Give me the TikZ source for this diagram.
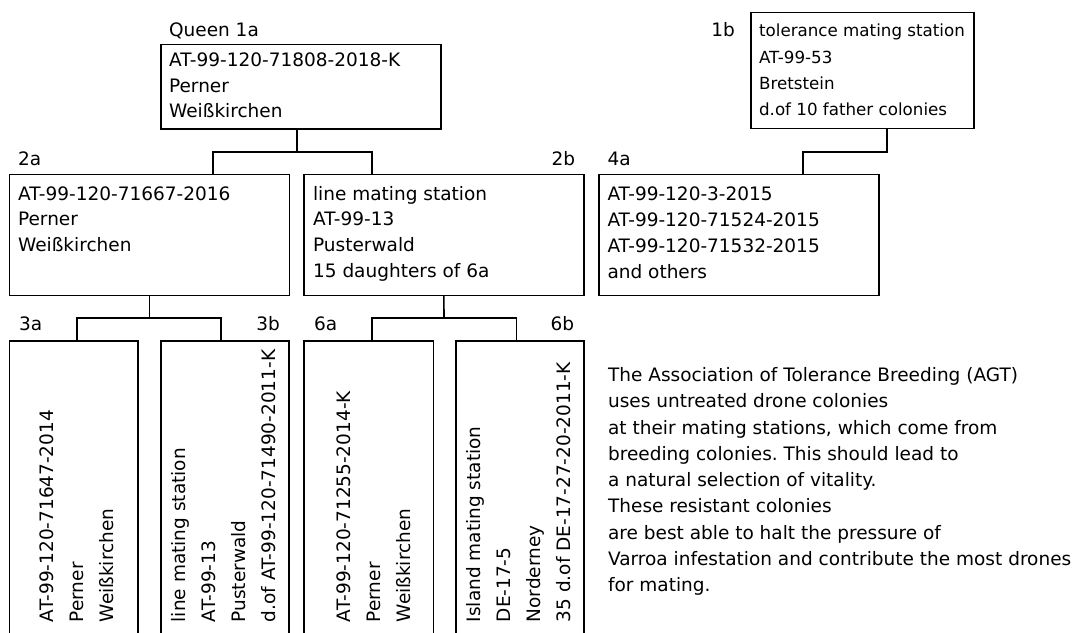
\documentclass[tikz,border=0pt]{standalone}
\usepackage{fontspec}
\setmainfont{DejaVu Sans}
\frenchspacing
\usetikzlibrary{positioning,calc}

\begin{document}
\begin{tikzpicture}[x=1pt,y=-1pt,line width=1.6pt,
    box/.style={draw, inner sep=0pt, outer sep=0pt, anchor=north west},
    % multi-line texts are anchored at the baseline of their last line
    txt/.style={inner sep=0pt, anchor=base west, align=left,
                font=\fontsize{18.5}{25.8}\selectfont},
    lbl/.style={inner sep=0pt, font=\fontsize{18.5}{22}\selectfont},
    vtxt/.style={txt, rotate=90, font=\fontsize{18.5}{30}\selectfont}]
    \useasboundingbox (0,0) rectangle (1078,632);
    \clip (0,0) rectangle (1078,632);

    % boxes
    \node[box, minimum width=280, minimum height=84.7] (q) at (160.7,44.3) {};
    \node[box, minimum width=223, minimum height=116] (b1) at (750.7,12.3) {};
    \node[box, minimum width=280, minimum height=121] (a2) at (9.3,174.3) {};
    \node[box, minimum width=279.7, minimum height=121] (b2) at (304,174.3) {};
    \node[box, minimum width=279.7, minimum height=121] (a4) at (599,174.3) {};
    \node[box, minimum width=128.7, minimum height=320] (a3) at (9.3,341) {};
    \node[box, minimum width=128.3, minimum height=320] (b3) at (160.7,341) {};
    \node[box, minimum width=129.3, minimum height=320] (a6) at (304,341) {};
    \node[box, minimum width=128.3, minimum height=320] (b6) at (455.7,341) {};

    % labels
    \node[lbl, anchor=base west] (ql) at (168.3,36.7) {Queen 1a};
    \node[lbl, anchor=base east] (b1l) at (735.7,36.7) {1b};
    \node[lbl, anchor=base west] (a2l) at (17.3,165) {2a};
    \node[lbl, anchor=base east] (b2l) at (576,165) {2b};
    \node[lbl, anchor=base west] (a4l) at (606.7,165) {4a};
    \node[lbl, anchor=base west] (a3l) at (18.3,330.7) {3a};
    \node[lbl, anchor=base east] (b3l) at (280.7,330.7) {3b};
    \node[lbl, anchor=base west] (a6l) at (313.3,330.7) {6a};
    \node[lbl, anchor=base east] (b6l) at (575,330.7) {6b};

    % texts
    \node[txt, font=\fontsize{18.5}{25.3}\selectfont] (qt) at (168.3,117.3)
        {AT-99-120-71808-2018-K\\Perner\\Weißkirchen};
    \node[txt, font=\fontsize{16.7}{26.3}\selectfont] (b1t) at (758.3,115.6)
        {tolerance mating station\\AT-99-53\\Bretstein\\d.of 10 father colonies};
    \node[txt] (a2t) at (17.3,251.6) {AT-99-120-71667-2016\\Perner\\Weißkirchen};
    \node[txt] (b2t) at (312.3,277.4) {line mating station\\AT-99-13\\Pusterwald\\15 daughters of 6a};
    \node[txt, font=\fontsize{18.5}{26.3}\selectfont] (a4t) at (606.7,278.9)
        {AT-99-120-3-2015\\AT-99-120-71524-2015\\AT-99-120-71532-2015\\and others};
    \node[vtxt] (a3t) at (113.3,623) {AT-99-120-71647-2014\\Perner\\Weißkirchen};
    \node[vtxt] (b3t) at (275,623) {line mating station\\AT-99-13\\Pusterwald\\d.of AT-99-120-71490-2011-K};
    \node[vtxt] (a6t) at (410,623) {AT-99-120-71255-2014-K\\Perner\\Weißkirchen};
    \node[vtxt] (b6t) at (570.5,623) {Island mating station\\DE-17-5\\Norderney\\35 d.of DE-17-27-20-2011-K};

    \node[txt, font=\fontsize{18.5}{26.25}\selectfont] (note) at (607.3,591.7)
        {The Association of Tolerance Breeding (AGT)\\
         uses untreated drone colonies\\
         at their mating stations, which come from\\
         breeding colonies. This should lead to\\
         a natural selection of vitality.\\
         These resistant colonies\\
         are best able to halt the pressure of\\
         Varroa infestation and contribute the most drones\\
         for mating.};

    % connectors
    \coordinate (j1) at (296.7,152);
    \coordinate (j1l) at (213,152);
    \coordinate (j1r) at (372,152);
    \draw (q.south -| j1) -- (j1);
    \draw (a2.north -| j1l) |- (j1r) -- (b2.north -| j1r);

    \coordinate (j2) at (149.3,318);
    \coordinate (j2l) at (77,318);
    \coordinate (j2r) at (221,318);
    \draw (a2.south) -- (j2);
    \draw (a3.north -| j2l) |- (j2r) -- (b3.north -| j2r);

    \coordinate (j3) at (444,318);
    \coordinate (j3l) at (372,318);
    \coordinate (j3r) at (516.5,318);
    \draw (b2.south) -- (j3);
    \draw (a6.north -| j3l) |- (j3r) -- (b6.north -| j3r);

    \coordinate (j4) at (886.7,151.7);
    \coordinate (j4l) at (803,151.7);
    \draw (b1.south -| j4) -- (j4) -- (j4l) -- (a4.north -| j4l);
\end{tikzpicture}
\end{document}
